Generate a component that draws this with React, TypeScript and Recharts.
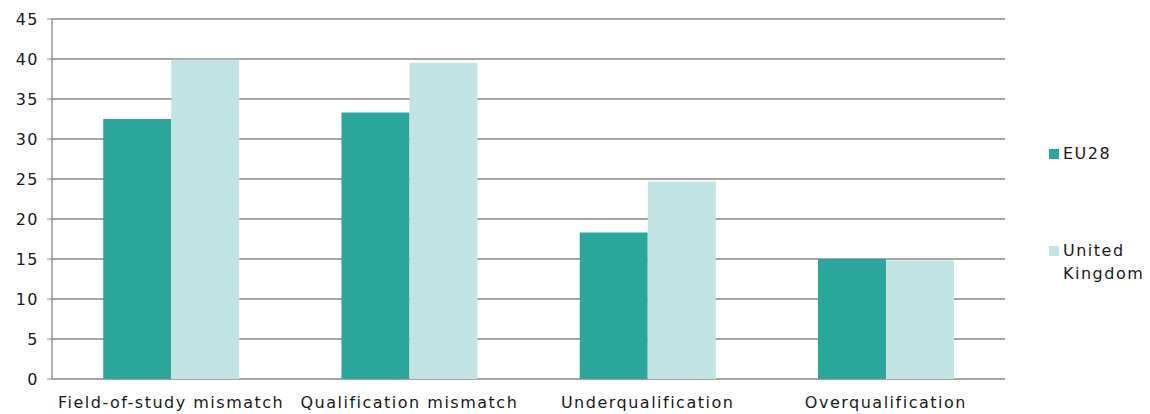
import { BarChart, Bar, XAxis, YAxis, CartesianGrid } from "recharts";

const categories = ["Field-of-study mismatch", "Qualification mismatch", "Underqualification", "Overqualification"];
const eu28 = [32.5, 33.3, 18.3, 15.0];
const uk = [39.9, 39.5, 24.7, 14.8];
const yTicks = [0, 5, 10, 15, 20, 25, 30, 35, 40, 45];
const boundaryTicks = [0, 1, 2, 3, 4];

const series = [
  { key: "eu28", name: "EU28", color: "#2ba69b" },
  { key: "uk", name: "United Kingdom", color: "#c1e4e2" },
];

const data = categories.map((name, i) => ({ name, eu28: eu28[i], uk: uk[i] }));

const FONT = "'DejaVu Sans', Verdana, sans-serif";
const AXIS = "#898989";
const TEXT = "#1a1a1a";
const tickStyle = { fill: TEXT, fontSize: 16, letterSpacing: 1.5 };

function LegendBox() {
  return (
    <div
      style={{
        position: "absolute",
        left: 1041,
        top: 134,
        fontFamily: FONT,
        fontSize: 16,
        letterSpacing: 1.5,
        color: TEXT,
        lineHeight: "23px",
      }}
    >
      <div style={{ display: "flex", alignItems: "flex-start", marginBottom: 74 }}>
        <span style={{ width: 10, height: 10, background: series[0].color, marginTop: 7, marginRight: 4 }} />
        <span>EU28</span>
      </div>
      <div style={{ display: "flex", alignItems: "flex-start" }}>
        <span style={{ width: 10, height: 10, background: series[1].color, marginTop: 7, marginRight: 4, flexShrink: 0 }} />
        <span>
          United
          <br />
          Kingdom
        </span>
      </div>
    </div>
  );
}

export default function App() {
  return (
    <div style={{ position: "relative", width: 1142, height: 406 }}>
      <BarChart
        width={1142}
        height={406}
        data={data}
        margin={{ top: 11, right: 145, bottom: 0, left: 0 }}
        barCategoryGap="21.5%"
        barGap={0}
        style={{ fontFamily: FONT }}
      >
        <CartesianGrid vertical={false} stroke={AXIS} strokeWidth={1.3} />
        <XAxis
          xAxisId="grid"
          type="number"
          domain={[0, 4]}
          ticks={boundaryTicks}
          tick={false}
          tickSize={6}
          height={0}
          stroke={AXIS}
          axisLine={{ stroke: AXIS, strokeWidth: 1.3 }}
        />
        <XAxis
          xAxisId="cat"
          dataKey="name"
          tickLine={false}
          axisLine={false}
          interval={0}
          height={35}
          tickMargin={12}
          tick={tickStyle}
        />
        <YAxis
          width={44}
          domain={[0, 45]}
          ticks={yTicks}
          interval={0}
          tickSize={5}
          tickMargin={8}
          stroke={AXIS}
          axisLine={{ stroke: AXIS, strokeWidth: 1.3 }}
          tick={tickStyle}
        />
        {series.map((s) => (
          <Bar key={s.key} xAxisId="cat" dataKey={s.key} name={s.name} fill={s.color} isAnimationActive={false} />
        ))}
      </BarChart>
      <LegendBox />
    </div>
  );
}
